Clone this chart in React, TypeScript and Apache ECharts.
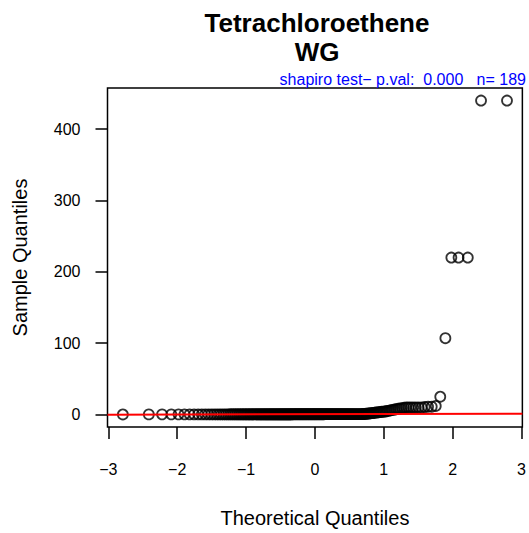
import React, { useEffect, useRef } from "react";
import * as echarts from "echarts";

const titleLines = ["Tetrachloroethene", "WG"];
const subtitleText = "shapiro test\u2212 p.val:  0.000   n= 189";
const xAxisName = "Theoretical Quantiles";
const yAxisName = "Sample Quantiles";
const xTicks = [-3, -2, -1, 0, 1, 2, 3];
const yTicks = [0, 100, 200, 300, 400];

// sorted sample values
const sampleValues = [
  0.1, 0.15, 0.2, 0.2, 0.2, 0.2, 0.2, 0.2, 0.2, 0.2, 0.25, 0.25, 0.25, 0.25, 0.25, 0.25, 0.25, 0.25, 0.25, 0.25,
  0.3, 0.3, 0.3, 0.3, 0.3, 0.3, 0.3, 0.3, 0.3, 0.3, 0.3, 0.3, 0.3, 0.3, 0.3, 0.3, 0.3, 0.3, 0.3, 0.3,
  0.3, 0.3, 0.3, 0.3, 0.3, 0.3, 0.3, 0.3, 0.3, 0.3, 0.35, 0.35, 0.35, 0.35, 0.35, 0.35, 0.35, 0.35, 0.35, 0.35,
  0.35, 0.35, 0.35, 0.35, 0.35, 0.35, 0.35, 0.35, 0.35, 0.35, 0.4, 0.4, 0.4, 0.4, 0.4, 0.4, 0.4, 0.4, 0.4, 0.4,
  0.4, 0.4, 0.4, 0.4, 0.4, 0.4, 0.4, 0.4, 0.4, 0.4, 0.45, 0.45, 0.45, 0.45, 0.45, 0.45, 0.45, 0.45, 0.45, 0.45,
  0.45, 0.45, 0.45, 0.45, 0.45, 0.5, 0.5, 0.5, 0.5, 0.5, 0.5, 0.5, 0.5, 0.5, 0.5, 0.5, 0.5, 0.5, 0.5, 0.5,
  0.5, 0.5, 0.5, 0.5, 0.5, 0.5, 0.5, 0.5, 0.5, 0.5, 0.55, 0.55, 0.55, 0.55, 0.55, 0.6, 0.6, 0.6, 0.6, 0.6,
  0.6, 0.6, 0.65, 0.7, 0.8, 1, 1.2, 1.4, 1.6, 1.8, 2, 2.2, 2.5, 2.8, 3, 3.2, 3.5, 3.8, 4, 4.2,
  4.5, 5, 5.5, 6, 6.5, 7, 7.5, 8, 8.5, 9, 9.5,
  10, 10, 10, 10, 10, 10, 10, 10.5, 11, 11, 12,
  25, 107, 220, 220, 220, 440, 440,
];

// inverse standard normal CDF (Acklam)
function qnorm(p: number): number {
  const a = [-39.69683028665376, 220.9460984245205, -275.9285104469687, 138.357751867269, -30.66479806614716, 2.506628277459239];
  const b = [-54.47609879822406, 161.5858368580409, -155.6989798598866, 66.80131188771972, -13.28068155288572];
  const c = [-0.007784894002430293, -0.3223964580411365, -2.400758277161838, -2.549732539343734, 4.374664141464968, 2.938163982698783];
  const d = [0.007784695709041462, 0.3224671290700398, 2.445134137142996, 3.754408661907416];
  const pl = 0.02425;
  if (p < pl) {
    const q = Math.sqrt(-2 * Math.log(p));
    return (((((c[0] * q + c[1]) * q + c[2]) * q + c[3]) * q + c[4]) * q + c[5]) / ((((d[0] * q + d[1]) * q + d[2]) * q + d[3]) * q + 1);
  }
  if (p > 1 - pl) {
    const q = Math.sqrt(-2 * Math.log(1 - p));
    return -(((((c[0] * q + c[1]) * q + c[2]) * q + c[3]) * q + c[4]) * q + c[5]) / ((((d[0] * q + d[1]) * q + d[2]) * q + d[3]) * q + 1);
  }
  const q = p - 0.5;
  const r = q * q;
  return ((((((a[0] * r + a[1]) * r + a[2]) * r + a[3]) * r + a[4]) * r + a[5]) * q) / (((((b[0] * r + b[1]) * r + b[2]) * r + b[3]) * r + b[4]) * r + 1);
}

function quantile7(sorted: number[], p: number): number {
  const h = (sorted.length - 1) * p;
  const lo = Math.floor(h);
  const hi = Math.min(lo + 1, sorted.length - 1);
  return sorted[lo] + (h - lo) * (sorted[hi] - sorted[lo]);
}

const FONT = '"Liberation Sans", Arial, Helvetica, sans-serif';

export default function App() {
  const ref = useRef<HTMLDivElement>(null);
  useEffect(() => {
    document.body.style.margin = "0";
    if (!ref.current) return;
    const chart = echarts.init(ref.current, undefined, { renderer: "svg" });
    const n = sampleValues.length;
    const theo = sampleValues.map((_, i) => qnorm((i + 0.5) / n));
    const tMin = theo[0];
    const tMax = theo[n - 1];
    const xPad = 0.04 * (tMax - tMin);
    const sMin = Math.min(...sampleValues);
    const sMax = Math.max(...sampleValues);
    const yPad = 0.04 * (sMax - sMin);
    const xLo = tMin - xPad;
    const xHi = tMax + xPad;
    const q1 = quantile7(sampleValues, 0.25);
    const q3 = quantile7(sampleValues, 0.75);
    const slope = (q3 - q1) / (qnorm(0.75) - qnorm(0.25));
    const intercept = q1 - slope * qnorm(0.25);

    chart.setOption({
      animation: false,
      backgroundColor: "#fff",
      grid: {
        left: 107.5,
        right: 2.5,
        top: 88,
        bottom: 102,
        show: true,
        borderColor: "#000",
        borderWidth: 1.5,
        backgroundColor: "transparent",
      },
      xAxis: {
        type: "value",
        min: xLo,
        max: xHi,
        axisLine: { show: false, onZero: false },
        splitLine: { show: false },
        axisTick: { show: true, inside: false, length: 12, customValues: xTicks, lineStyle: { color: "#000", width: 1.5 } },
        axisLabel: {
          customValues: xTicks,
          margin: 34,
          fontSize: 16,
          color: "#000",
          fontFamily: FONT,
          formatter: (v: number) => (v < 0 ? "\u2212" + Math.abs(v) : String(v)),
        },
        name: xAxisName,
        nameLocation: "middle",
        nameGap: 81,
        nameTextStyle: { fontSize: 20, color: "#000", fontFamily: FONT },
      },
      yAxis: {
        type: "value",
        min: sMin - yPad,
        max: sMax + yPad,
        axisLine: { show: false, onZero: false },
        splitLine: { show: false },
        axisTick: { show: true, inside: false, length: 12, customValues: yTicks, lineStyle: { color: "#000", width: 1.5 } },
        axisLabel: {
          customValues: yTicks,
          margin: 27,
          fontSize: 16,
          color: "#000",
          fontFamily: FONT,
        },
        name: yAxisName,
        nameLocation: "middle",
        nameGap: 78,
        nameTextStyle: { fontSize: 20, color: "#000", fontFamily: FONT },
      },
      series: [
        {
          type: "scatter",
          data: theo.map((x, i) => [x, sampleValues[i]]),
          symbol: "circle",
          symbolSize: 10,
          itemStyle: { color: "rgba(0,0,0,0)", borderColor: "#000", borderWidth: 1.8 },
          emphasis: { disabled: true },
          z: 2,
        },
        {
          type: "line",
          data: [
            [xLo, intercept + slope * xLo],
            [xHi, intercept + slope * xHi],
          ],
          symbol: "none",
          lineStyle: { color: "#ff0000", width: 2 },
          clip: true,
          z: 3,
        },
      ],
      graphic: [
        {
          type: "text",
          x: 317,
          y: 22.5,
          style: { text: titleLines[0], font: `bold 26px ${FONT}`, fill: "#000", textAlign: "center", textVerticalAlign: "middle" },
        },
        {
          type: "text",
          x: 317,
          y: 52,
          style: { text: titleLines[1], font: `bold 26px ${FONT}`, fill: "#000", textAlign: "center", textVerticalAlign: "middle" },
        },
        {
          type: "text",
          x: 526,
          y: 79.5,
          style: { text: subtitleText, font: `16px ${FONT}`, fill: "#0000ff", textAlign: "right", textVerticalAlign: "middle" },
        },
      ],
    });
    return () => chart.dispose();
  }, []);
  return <div ref={ref} style={{ width: 529, height: 533 }} />;
}
